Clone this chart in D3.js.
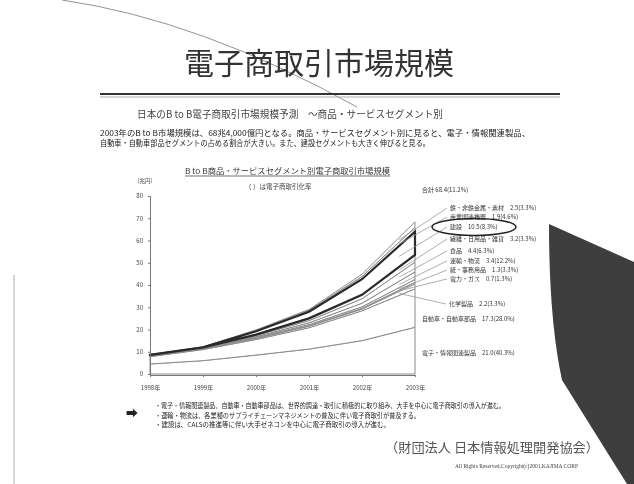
<!DOCTYPE html>
<html lang="ja">
<head>
<meta charset="UTF-8">
<title>電子商取引市場規模</title>
<script src="https://d3js.org/d3.v7.min.js"></script>
<style>
  body { margin: 0; background: #fff; overflow: hidden; }
  svg { display: block; font-family: "Noto Sans CJK JP", sans-serif; filter: blur(0.35px); }
</style>
</head>
<body>
<div id="chart"></div>
<script>
// ---- データ（兆円） ----
const years = ["1998", "1999", "2000", "2001", "2002", "2003"];
const segments = ["電子・情報関連製品", "自動車・自動車部品", "化学製品", "電力・ガス", "紙・事務用品",
  "運輸・物流", "食品", "繊維・日用品・雑貨", "建設", "産業関連機器", "鉄・非鉄金属・素材"];
const electronics = [4.5, 6.0, 8.5, 11.2, 15.0, 21.0];
const automobile  = [3.3, 5.0, 7.0, 9.6, 13.4, 17.3];
const chemical    = [0.2, 0.3, 0.5, 0.7, 0.8, 2.2];
const power       = [0.1, 0.1, 0.1, 0.2, 0.3, 0.7];
const paper       = [0.1, 0.1, 0.3, 0.5, 0.7, 1.3];
const transport   = [0.1, 0.2, 0.4, 0.8, 1.6, 3.4];
const food        = [0.1, 0.1, 0.5, 1.0, 2.0, 4.4];
const textile     = [0.1, 0.1, 0.4, 1.0, 1.8, 3.2];
const construction = [0.1, 0.1, 1.5, 3.0, 7.0, 10.5];
const machinery   = [0.1, 0.1, 0.3, 0.6, 1.2, 1.9];
const steel       = [0.1, 0.1, 0.3, 0.4, 1.0, 2.5];
// 電子商取引化率（2003年）
const ecRates = ["40.3%", "28.0%", "3.3%", "1.3%", "3.3%", "12.2%", "6.3%", "3.3%", "8.3%", "4.6%", "3.3%"];
const totalRate = "11.2%";
const yTicks = [0, 10, 20, 30, 40, 50, 60, 70, 80];

const seriesList = [electronics, automobile, chemical, power, paper, transport, food, textile, construction, machinery, steel];

const W = 634, H = 484;
const svg = d3.select("#chart").append("svg").attr("width", W).attr("height", H);

// スライド装飾
svg.append("path")
  .attr("d", "M62,0 Q200,20 357,107")
  .attr("fill", "none").attr("stroke", "#777").attr("stroke-width", 0.8);
svg.append("line").attr("x1", 14).attr("x2", 14).attr("y1", 275).attr("y2", H)
  .attr("stroke", "#aaa").attr("stroke-width", 1);
svg.append("path")
  .attr("d", "M549,224 L634,262 L634,484 L627,484 Q590,425 562,380 Q549,320 549,224 Z")
  .attr("fill", "#3e3e3e");

// タイトル
svg.append("text").attr("x", 319).attr("y", 74).attr("text-anchor", "middle")
  .attr("font-size", 30).attr("fill", "#333").text("電子商取引市場規模");
svg.append("line").attr("x1", 100).attr("x2", 560).attr("y1", 94).attr("y2", 94)
  .attr("stroke", "#333").attr("stroke-width", 2);
svg.append("line").attr("x1", 100).attr("x2", 560).attr("y1", 97).attr("y2", 97)
  .attr("stroke", "#aaa").attr("stroke-width", 1);

svg.append("text").attr("x", 137).attr("y", 118).attr("font-size", 10).attr("fill", "#444")
  .attr("textLength", 306).attr("lengthAdjust", "spacingAndGlyphs")
  .text("日本のB to B電子商取引市場規模予測　～商品・サービスセグメント別");

svg.append("text").attr("x", 100).attr("y", 136).attr("font-size", 8).attr("fill", "#222")
  .attr("textLength", 430).attr("lengthAdjust", "spacingAndGlyphs")
  .text("2003年のB to B市場規模は、68兆4,000億円となる。商品・サービスセグメント別に見ると、電子・情報関連製品、");
svg.append("text").attr("x", 100).attr("y", 146).attr("font-size", 8).attr("fill", "#222")
  .attr("textLength", 330).attr("lengthAdjust", "spacingAndGlyphs")
  .text("自動車・自動車部品セグメントの占める割合が大きい。また、建設セグメントも大きく伸びると見る。");

// グラフ見出し
svg.append("text").attr("x", 185).attr("y", 174).attr("font-size", 7.5).attr("fill", "#333")
  .attr("textLength", 205).attr("lengthAdjust", "spacingAndGlyphs")
  .text("B to B商品・サービスセグメント別電子商取引市場規模");
svg.append("line").attr("x1", 185).attr("x2", 390).attr("y1", 176).attr("y2", 176)
  .attr("stroke", "#333").attr("stroke-width", 0.7);
svg.append("text").attr("x", 245).attr("y", 189).attr("font-size", 6.5).attr("fill", "#444")
  .text("（ ）は電子商取引化率");
svg.append("text").attr("x", 134).attr("y", 183).attr("font-size", 5.5).attr("fill", "#444")
  .text("（兆円）");

// スケール
const x = d3.scalePoint().domain(years).range([150, 415]);
const y = d3.scaleLinear().domain([0, 80]).range([374, 196]);

const table = years.map((yr, i) => {
  const row = { year: yr };
  segments.forEach((s, k) => row[s] = seriesList[k][i]);
  return row;
});
const stacked = d3.stack().keys(segments)(table);

const area = d3.area()
  .x(d => x(d.data.year))
  .y0(d => y(d[0]))
  .y1(d => y(d[1]));

const g = svg.append("g");
g.selectAll(".seg").data(stacked).enter().append("path")
  .attr("class", "seg")
  .attr("d", area)
  .attr("fill", "#fff")
  .attr("stroke", "#8a8a8a")
  .attr("stroke-width", 1);

// 建設を強調
g.append("path").datum(stacked[segments.indexOf("建設")])
  .attr("d", area)
  .attr("fill", "none")
  .attr("stroke", "#2a2a2a")
  .attr("stroke-width", 2.2);

// 軸
const yAxis = svg.append("g").attr("transform", "translate(150,0)")
  .call(d3.axisLeft(y).tickValues(yTicks).tickSize(2).tickPadding(5));
const xAxis = svg.append("g").attr("transform", "translate(0,375)")
  .call(d3.axisBottom(x).tickSize(2).tickPadding(9).tickFormat(d => d + "年"));
[yAxis, xAxis].forEach(a => {
  a.select(".domain").attr("stroke", "#777");
  a.selectAll(".tick line").attr("stroke", "#777");
  a.selectAll("text").attr("font-size", 6).attr("fill", "#444")
    .attr("font-family", "Noto Sans CJK JP");
});

// 右側ラベル
const last = years.length - 1;
const total = d3.sum(seriesList, s => s[last]);
svg.append("text").attr("x", 422).attr("y", 192).attr("font-size", 6).attr("fill", "#333")
  .text(`合計 ${total.toFixed(1)}(${totalRate})`);

const labelPos = [
  { x: 422, y: 355, lead: false },
  { x: 422, y: 321, lead: false },
  { x: 449, y: 306, lead: true },
  { x: 450, y: 281, lead: true },
  { x: 450, y: 272, lead: true },
  { x: 450, y: 263, lead: true },
  { x: 450, y: 253, lead: true },
  { x: 450, y: 241, lead: true },
  { x: 450, y: 229, lead: true },
  { x: 450, y: 219, lead: true },
  { x: 450, y: 210, lead: true }
];

stacked.forEach((layer, k) => {
  const p = labelPos[k];
  const v = seriesList[k][last];
  if (p.lead) {
    const a = layer[last - 1], b = layer[last];
    const t = 0.7;
    const mid = ((a[0] + a[1]) / 2) * (1 - t) + ((b[0] + b[1]) / 2) * t;
    const px = x(years[last - 1]) + (x(years[last]) - x(years[last - 1])) * t;
    svg.append("line")
      .attr("x1", px).attr("y1", y(mid))
      .attr("x2", p.x - 3).attr("y2", p.y - 2)
      .attr("stroke", "#999").attr("stroke-width", 0.8);
  }
  svg.append("text").attr("x", p.x).attr("y", p.y).attr("font-size", 6).attr("fill", "#333")
    .text(`${segments[k]}　${v.toFixed(1)}(${ecRates[k]})`);
});

// 建設の丸囲み
svg.append("ellipse").attr("cx", 474).attr("cy", 227).attr("rx", 42).attr("ry", 8.5)
  .attr("fill", "none").attr("stroke", "#222").attr("stroke-width", 1.5);

// 注記
svg.append("text").attr("x", 126).attr("y", 418).attr("font-size", 12).attr("fill", "#222")
  .text("➡");
const notes = [
  "・電子・情報関連製品、自動車・自動車部品は、世界的調達・取引に積極的に取り組み、大手を中心に電子商取引の導入が進む。",
  "・運輸・物流は、各業種のサプライチェーンマネジメントの普及に伴い電子商取引が普及する。",
  "・建設は、CALSの推進等に伴い大手ゼネコンを中心に電子商取引の導入が進む。"
];
const noteW = [350, 265, 235];
notes.forEach((n, i) => {
  svg.append("text").attr("x", 155).attr("y", 408 + i * 9.5).attr("font-size", 6.5).attr("fill", "#222")
    .attr("textLength", noteW[i]).attr("lengthAdjust", "spacingAndGlyphs").text(n);
});

// フッター
svg.append("text").attr("x", 385).attr("y", 452).attr("font-size", 13).attr("fill", "#555")
  .attr("textLength", 214).attr("lengthAdjust", "spacingAndGlyphs")
  .text("（財団法人 日本情報処理開発協会）");
svg.append("text").attr("x", 455).attr("y", 468).attr("font-size", 5.5).attr("fill", "#444")
  .attr("font-family", "Liberation Serif")
  .text("All Rights Reserved,Copyright(c)2001,KAJIMA CORP");
</script>
</body>
</html>
